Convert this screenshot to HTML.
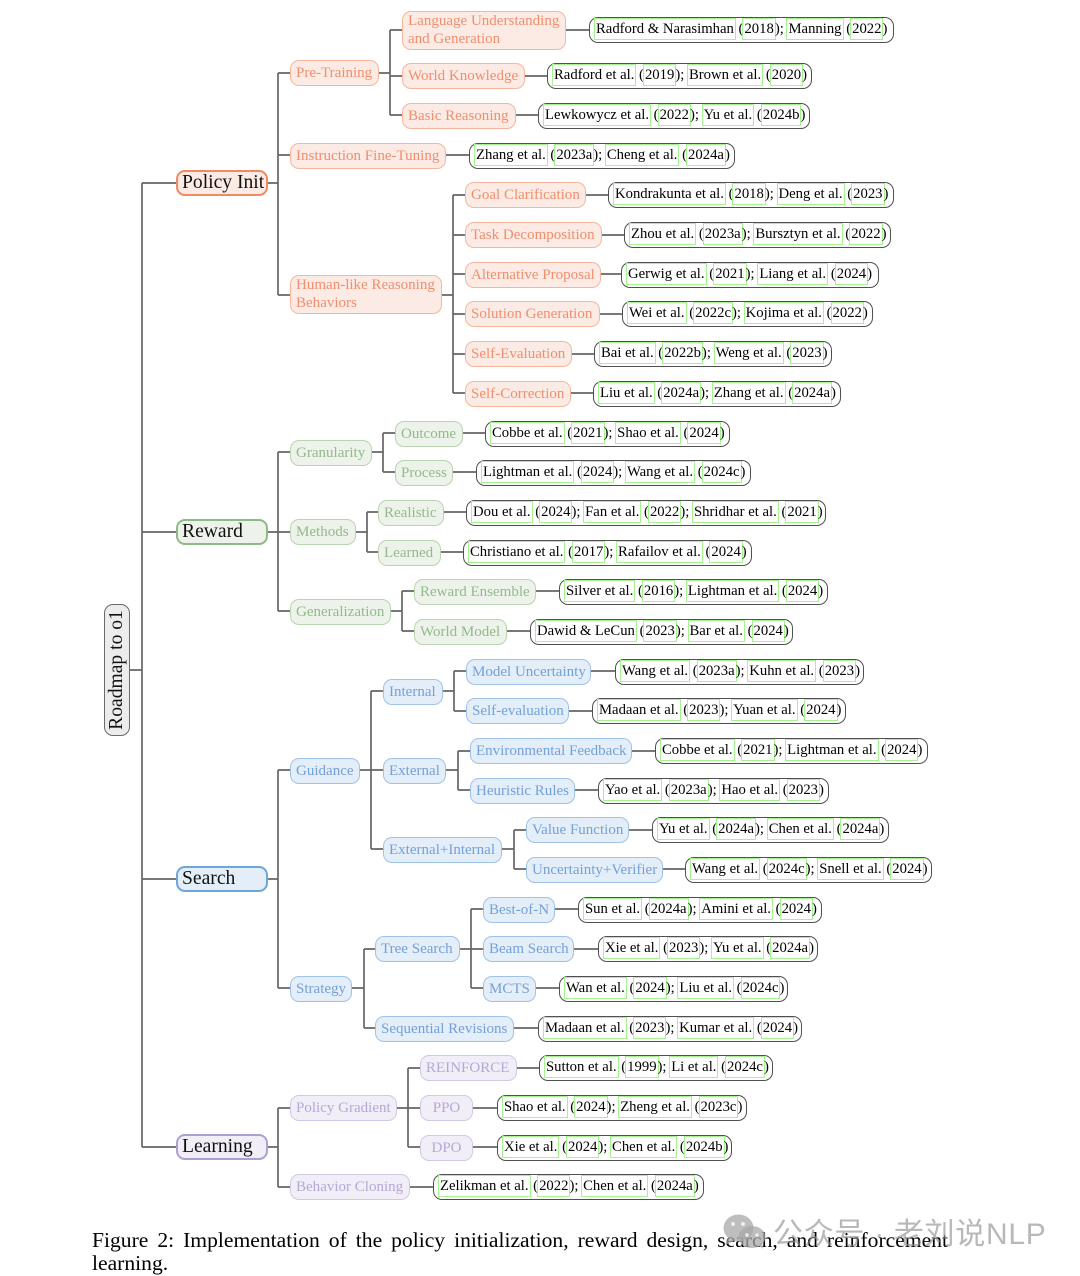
<!DOCTYPE html>
<html><head><meta charset="utf-8"><style>
html,body{margin:0;padding:0;background:#fff}
#p{position:relative;width:1080px;height:1276px;overflow:hidden;font-family:"Liberation Serif",serif;filter:blur(.3px)}
svg{position:absolute;left:0;top:0}
.n,.l,.h{position:absolute;box-sizing:border-box;height:26px;white-space:nowrap;line-height:24px}
.n{border:1.3px solid;border-radius:9px;font-size:15.03px;padding-left:5px;letter-spacing:0}
.n.t{height:39px;line-height:17.5px;padding-top:1px}
.h{border:2px solid;border-radius:9px;font-size:19.6px;color:#111;padding-left:4px;line-height:21px}
.o{background:#fbebe4;border-color:#f6b59c;color:#f08e6e}
.g{background:#edf3ea;border-color:#b8d4b0;color:#93ba8b}
.b{background:#e4eef8;border-color:#9fc2e8;color:#74a1d8}
.u{background:#f1eef8;border-color:#cfc8e6;color:#b5a8d6}
.h.o{border-color:#f08a63;color:#111}.h.g{border-color:#8fb987;color:#111}.h.b{border-color:#6da5dd;color:#111}.h.u{border-color:#ae9fd3;color:#111}
.l{border:1.4px solid #505050;border-radius:9px;background:#fff;font-size:14.7px;color:#000;padding:0 6px 0 5px;line-height:23px;text-align:justify;text-align-last:justify;white-space:nowrap}
.l b{font-weight:normal;box-shadow:0 0 0 1px #a4f290;padding:2px 1px}
#rm{position:absolute;left:104px;top:604px;width:26px;height:132px;box-sizing:border-box;border:1.8px solid #6b6b6b;border-radius:9px;background:#ececec}
#rm span{position:absolute;left:48%;top:50%;transform:translate(-50%,-50%) rotate(-90deg);font-size:19.6px;white-space:nowrap;color:#111}
.c{position:absolute;left:92px;width:856px;font-size:21.6px;color:#000;white-space:nowrap;text-align:justify;text-align-last:justify}
#wm{position:absolute;left:773px;top:1209px;font-family:"Liberation Sans","Noto Sans CJK SC",sans-serif;font-size:30px;color:rgba(140,140,140,.62);white-space:nowrap;letter-spacing:.7px}
</style></head><body><div id="p">
<svg width="1080" height="1276" fill="none" stroke="#666" stroke-width="1.7">
<path d="M130 670H142M142 183V1147M142 183H176M142 532H176M142 879H176M142 1147H176"/>
<path d="M267 183H278M278 73V295M278 73H290M278 155H290M278 295H290"/>
<path d="M379 73H390M390 30V115M390 30H402M390 76H402M390 115H402"/>
<path d="M442 295H453M453 195V393M453 195H465M453 235H465M453 274H465M453 314H465M453 354H465M453 393H465"/>
<path d="M267 532H278M278 452V611M278 452H290M278 532H290M278 611H290"/>
<path d="M372 452H383M383 433V472M383 433H395M383 472H395"/>
<path d="M356 532H367M367 512V552M367 512H378M367 552H378"/>
<path d="M391 611H402M402 591V631M402 591H414M402 631H414"/>
<path d="M267 879H278M278 770V988M278 770H290M278 988H290"/>
<path d="M360 770H371M371 691V849M371 691H383M371 770H383M371 849H383"/>
<path d="M443 691H454M454 671V711M454 671H466M454 711H466"/>
<path d="M446 770H458M458 751V790M458 751H470M458 790H470"/>
<path d="M502 849H514M514 830V869M514 830H526M514 869H526"/>
<path d="M352 988H364M364 949V1028M364 949H375M364 1028H375"/>
<path d="M460 949H471M471 909V988M471 909H483M471 949H483M471 988H483"/>
<path d="M267 1147H278M278 1108V1187M278 1108H290M278 1187H290"/>
<path d="M397 1108H408M408 1068V1147M408 1068H420M408 1108H420M408 1147H420"/>
<path d="M566 30H589M525 76H547M516 115H538M446 155H469M586 195H608M602 235H624M601 274H621M600 314H622M572 354H594M571 393H593M463 433H485M453 472H476M444 512H466M441 552H463M536 591H559M507 631H530M591 671H615M569 711H592M632 751H655M575 790H598M629 830H652M663 869H685M555 909H578M574 949H598M536 988H559M514 1028H538M517 1068H539M473 1108H497M473 1147H497M410 1187H433"/>
</svg>
<div id="rm"><span>Roadmap to o1</span></div>
<div class="h o" style="left:176px;top:170px;width:92px">Policy Init</div>
<div class="h g" style="left:176px;top:519px;width:92px">Reward</div>
<div class="h b" style="left:176px;top:866px;width:92px">Search</div>
<div class="h u" style="left:176px;top:1134px;width:92px;">Learning</div>

<div class="n o" style="left:290px;top:60px;width:89px">Pre-Training</div>
<div class="n o t" style="left:402px;top:11px;width:164px">Language Understanding<br>and Generation</div>
<div class="n o" style="left:402px;top:63px;width:123px">World Knowledge</div>
<div class="n o" style="left:402px;top:103px;width:114px">Basic Reasoning</div>
<div class="n o" style="left:290px;top:143px;width:156px">Instruction Fine-Tuning</div>
<div class="n o t" style="left:290px;top:275px;width:152px">Human-like Reasoning<br>Behaviors</div>
<div class="n o" style="left:465px;top:182px;width:121px">Goal Clarification</div>
<div class="n o" style="left:465px;top:222px;width:137px">Task Decomposition</div>
<div class="n o" style="left:465px;top:262px;width:136px">Alternative Proposal</div>
<div class="n o" style="left:465px;top:301px;width:135px">Solution Generation</div>
<div class="n o" style="left:465px;top:341px;width:107px">Self-Evaluation</div>
<div class="n o" style="left:465px;top:381px;width:106px">Self-Correction</div>

<div class="n g" style="left:290px;top:440px;width:82px">Granularity</div>
<div class="n g" style="left:395px;top:421px;width:68px">Outcome</div>
<div class="n g" style="left:395px;top:460px;width:58px">Process</div>
<div class="n g" style="left:290px;top:519px;width:66px">Methods</div>
<div class="n g" style="left:378px;top:500px;width:66px">Realistic</div>
<div class="n g" style="left:378px;top:540px;width:63px">Learned</div>
<div class="n g" style="left:290px;top:599px;width:101px">Generalization</div>
<div class="n g" style="left:414px;top:579px;width:122px">Reward Ensemble</div>
<div class="n g" style="left:414px;top:619px;width:93px">World Model</div>

<div class="n b" style="left:290px;top:758px;width:70px">Guidance</div>
<div class="n b" style="left:383px;top:679px;width:60px">Internal</div>
<div class="n b" style="left:383px;top:758px;width:63px">External</div>
<div class="n b" style="left:383px;top:837px;width:119px">External+Internal</div>
<div class="n b" style="left:466px;top:659px;width:125px">Model Uncertainty</div>
<div class="n b" style="left:466px;top:698px;width:103px">Self-evaluation</div>
<div class="n b" style="left:470px;top:738px;width:162px">Environmental Feedback</div>
<div class="n b" style="left:470px;top:778px;width:105px">Heuristic Rules</div>
<div class="n b" style="left:526px;top:817px;width:103px">Value Function</div>
<div class="n b" style="left:526px;top:857px;width:137px">Uncertainty+Verifier</div>
<div class="n b" style="left:290px;top:976px;width:62px">Strategy</div>
<div class="n b" style="left:375px;top:936px;width:85px">Tree Search</div>
<div class="n b" style="left:375px;top:1016px;width:139px">Sequential Revisions</div>
<div class="n b" style="left:483px;top:897px;width:72px">Best-of-N</div>
<div class="n b" style="left:483px;top:936px;width:91px">Beam Search</div>
<div class="n b" style="left:483px;top:976px;width:53px">MCTS</div>

<div class="n u" style="left:290px;top:1095px;width:107px">Policy Gradient</div>
<div class="n u" style="left:420px;top:1055px;width:97px">REINFORCE</div>
<div class="n u" style="left:420px;top:1095px;width:53px;text-align:center;padding:0">PPO</div>
<div class="n u" style="left:420px;top:1135px;width:53px;text-align:center;padding:0">DPO</div>
<div class="n u" style="left:290px;top:1174px;width:120px">Behavior Cloning</div>

<div class="l" style="left:589px;top:17px;width:305px"><b>Radford &amp; Narasimhan</b> (<b>2018</b>); <b>Manning</b> (<b>2022</b>)</div>
<div class="l" style="left:547px;top:63px;width:265px"><b>Radford et al.</b> (<b>2019</b>); <b>Brown et al.</b> (<b>2020</b>)</div>
<div class="l" style="left:538px;top:103px;width:272px"><b>Lewkowycz et al.</b> (<b>2022</b>); <b>Yu et al.</b> (<b>2024b</b>)</div>
<div class="l" style="left:469px;top:143px;width:266px"><b>Zhang et al.</b> (<b>2023a</b>); <b>Cheng et al.</b> (<b>2024a</b>)</div>
<div class="l" style="left:608px;top:182px;width:286px"><b>Kondrakunta et al.</b> (<b>2018</b>); <b>Deng et al.</b> (<b>2023</b>)</div>
<div class="l" style="left:624px;top:222px;width:267px"><b>Zhou et al.</b> (<b>2023a</b>); <b>Bursztyn et al.</b> (<b>2022</b>)</div>
<div class="l" style="left:621px;top:262px;width:258px"><b>Gerwig et al.</b> (<b>2021</b>); <b>Liang et al.</b> (<b>2024</b>)</div>
<div class="l" style="left:622px;top:301px;width:251px"><b>Wei et al.</b> (<b>2022c</b>); <b>Kojima et al.</b> (<b>2022</b>)</div>
<div class="l" style="left:594px;top:341px;width:238px"><b>Bai et al.</b> (<b>2022b</b>); <b>Weng et al.</b> (<b>2023</b>)</div>
<div class="l" style="left:593px;top:381px;width:248px"><b>Liu et al.</b> (<b>2024a</b>); <b>Zhang et al.</b> (<b>2024a</b>)</div>
<div class="l" style="left:485px;top:421px;width:245px"><b>Cobbe et al.</b> (<b>2021</b>); <b>Shao et al.</b> (<b>2024</b>)</div>
<div class="l" style="left:476px;top:460px;width:275px"><b>Lightman et al.</b> (<b>2024</b>); <b>Wang et al.</b> (<b>2024c</b>)</div>
<div class="l" style="left:466px;top:500px;width:360px"><b>Dou et al.</b> (<b>2024</b>); <b>Fan et al.</b> (<b>2022</b>); <b>Shridhar et al.</b> (<b>2021</b>)</div>
<div class="l" style="left:463px;top:540px;width:289px"><b>Christiano et al.</b> (<b>2017</b>); <b>Rafailov et al.</b> (<b>2024</b>)</div>
<div class="l" style="left:559px;top:579px;width:269px"><b>Silver et al.</b> (<b>2016</b>); <b>Lightman et al.</b> (<b>2024</b>)</div>
<div class="l" style="left:530px;top:619px;width:263px"><b>Dawid &amp; LeCun</b> (<b>2023</b>); <b>Bar et al.</b> (<b>2024</b>)</div>
<div class="l" style="left:615px;top:659px;width:249px"><b>Wang et al.</b> (<b>2023a</b>); <b>Kuhn et al.</b> (<b>2023</b>)</div>
<div class="l" style="left:592px;top:698px;width:254px"><b>Madaan et al.</b> (<b>2023</b>); <b>Yuan et al.</b> (<b>2024</b>)</div>
<div class="l" style="left:655px;top:738px;width:273px"><b>Cobbe et al.</b> (<b>2021</b>); <b>Lightman et al.</b> (<b>2024</b>)</div>
<div class="l" style="left:598px;top:778px;width:231px"><b>Yao et al.</b> (<b>2023a</b>); <b>Hao et al.</b> (<b>2023</b>)</div>
<div class="l" style="left:652px;top:817px;width:237px"><b>Yu et al.</b> (<b>2024a</b>); <b>Chen et al.</b> (<b>2024a</b>)</div>
<div class="l" style="left:685px;top:857px;width:247px"><b>Wang et al.</b> (<b>2024c</b>); <b>Snell et al.</b> (<b>2024</b>)</div>
<div class="l" style="left:578px;top:897px;width:244px"><b>Sun et al.</b> (<b>2024a</b>); <b>Amini et al.</b> (<b>2024</b>)</div>
<div class="l" style="left:598px;top:936px;width:220px"><b>Xie et al.</b> (<b>2023</b>); <b>Yu et al.</b> (<b>2024a</b>)</div>
<div class="l" style="left:559px;top:976px;width:229px"><b>Wan et al.</b> (<b>2024</b>); <b>Liu et al.</b> (<b>2024c</b>)</div>
<div class="l" style="left:538px;top:1016px;width:264px"><b>Madaan et al.</b> (<b>2023</b>); <b>Kumar et al.</b> (<b>2024</b>)</div>
<div class="l" style="left:539px;top:1055px;width:234px"><b>Sutton et al.</b> (<b>1999</b>); <b>Li et al.</b> (<b>2024c</b>)</div>
<div class="l" style="left:497px;top:1095px;width:250px"><b>Shao et al.</b> (<b>2024</b>); <b>Zheng et al.</b> (<b>2023c</b>)</div>
<div class="l" style="left:497px;top:1135px;width:235px"><b>Xie et al.</b> (<b>2024</b>); <b>Chen et al.</b> (<b>2024b</b>)</div>
<div class="l" style="left:433px;top:1174px;width:271px"><b>Zelikman et al.</b> (<b>2022</b>); <b>Chen et al.</b> (<b>2024a</b>)</div>

<div class="c" style="top:1228px">Figure 2: Implementation of the policy initialization, reward design, search, and reinforcement</div>
<div class="c" style="top:1251px;text-align-last:left">learning.</div>

<svg width="1080" height="1276" stroke="none">
<g fill="#a8a8a8" fill-opacity=".75">
<ellipse cx="738.5" cy="1228" rx="15" ry="13.5"/><path d="M728 1238l-3 7 9-4z"/>
<ellipse cx="752" cy="1237" rx="13.5" ry="11"/><path d="M759 1245l4 4-1-7z"/>
</g>
<g fill="#eee"><circle cx="733" cy="1224" r="2"/><circle cx="743" cy="1224" r="2"/><circle cx="747" cy="1235" r="1.7"/><circle cx="757" cy="1235" r="1.7"/></g>
</svg>
<div id="wm">公众号 · 老刘说NLP</div>
</div></body></html>
